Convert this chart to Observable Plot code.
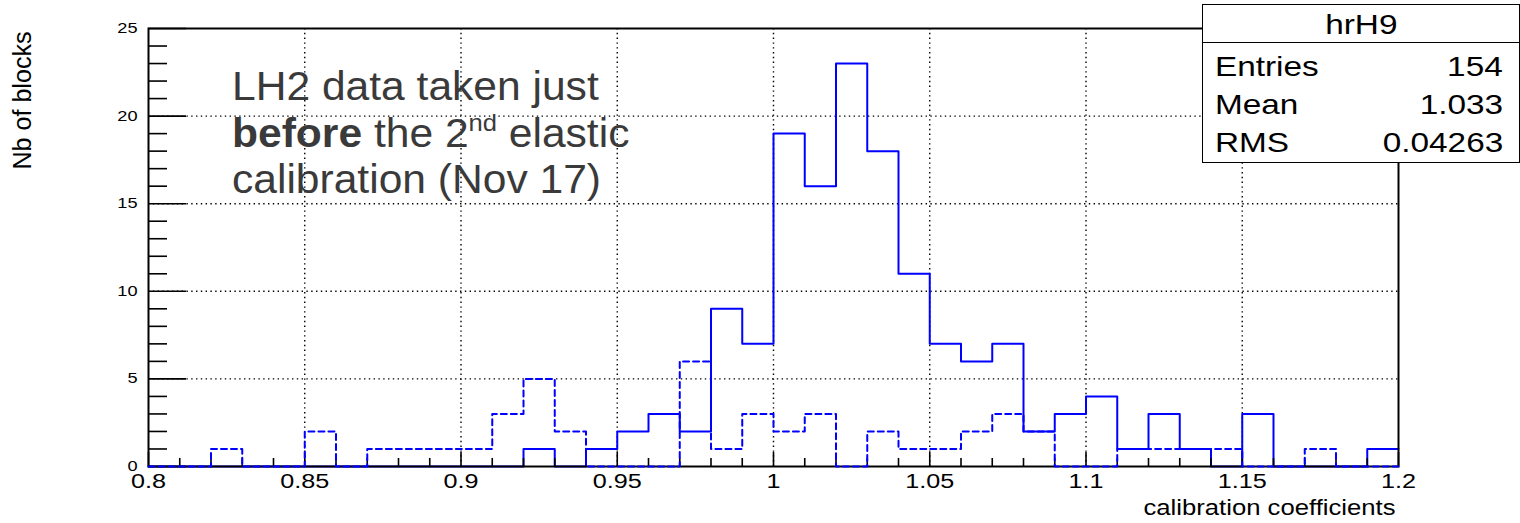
<!DOCTYPE html>
<html>
<head>
<meta charset="utf-8">
<script src="https://cdn.jsdelivr.net/npm/d3@7"></script>
<script src="https://cdn.jsdelivr.net/npm/@observablehq/plot@0.6"></script>
<style>
  html, body { margin: 0; padding: 0; background: #fff; }
  #wrap { position: relative; width: 1520px; height: 523px; overflow: hidden;
          font-family: "Liberation Sans", Arial, sans-serif; }
  #wrap svg { position: absolute; left: 0; top: 0; }
  #stats { position: absolute; left: 1202px; top: 4px; width: 318px; height: 159px;
           box-sizing: border-box; border: 1.5px solid #000; background: #fff; }
  #stats .hdr { position: absolute; left: 0; right: 0; top: 0; height: 38px;
                border-bottom: 1.5px solid #000; box-sizing: border-box; }
  .st { position: absolute; font-size: 28px; line-height: 28px; color: #000; white-space: nowrap; }
  .st span { display: inline-block; }
  #note { position: absolute; left: 232px; top: 63px; font-size: 40px; line-height: 46.5px;
          color: #3a3a3a; white-space: nowrap; transform: scaleX(1.064); transform-origin: left top; }
  #note sup { font-size: 24px; vertical-align: 16px; line-height: 0; }
</style>
</head>
<body>
<div id="wrap"></div>
<script>
// ---- data ----
const binEdges = [0.80, 0.81, 0.82, 0.83, 0.84, 0.85, 0.86, 0.87, 0.88, 0.89,
                  0.90, 0.91, 0.92, 0.93, 0.94, 0.95, 0.96, 0.97, 0.98, 0.99,
                  1.00, 1.01, 1.02, 1.03, 1.04, 1.05, 1.06, 1.07, 1.08, 1.09,
                  1.10, 1.11, 1.12, 1.13, 1.14, 1.15, 1.16, 1.17, 1.18, 1.19, 1.20];
// solid histogram (hrH9)
const solidCounts = [0, 0, 0, 0, 0, 0, 0, 0, 0, 0,
                     0, 0, 1, 0, 1, 2, 3, 2, 9, 7,
                     19, 16, 23, 18, 11, 7, 6, 7, 2, 3,
                     4, 1, 3, 1, 0, 3, 0, 0, 0, 1];
// dashed histogram
const dashedCounts = [0, 0, 1, 0, 0, 2, 0, 1, 1, 1,
                      1, 3, 5, 2, 0, 0, 0, 6, 1, 3,
                      2, 3, 0, 2, 1, 1, 2, 3, 2, 0,
                      0, 1, 1, 1, 1, 0, 0, 1, 0, 0];

const xMajorTicks = [0.8, 0.85, 0.9, 0.95, 1.0, 1.05, 1.1, 1.15, 1.2];
const xTickLabels = ["0.8", "0.85", "0.9", "0.95", "1", "1.05", "1.1", "1.15", "1.2"];
const xMinorTicks = [0.81, 0.82, 0.83, 0.84, 0.86, 0.87, 0.88, 0.89, 0.91, 0.92, 0.93, 0.94,
                     0.96, 0.97, 0.98, 0.99, 1.01, 1.02, 1.03, 1.04, 1.06, 1.07, 1.08, 1.09,
                     1.11, 1.12, 1.13, 1.14, 1.16, 1.17, 1.18, 1.19];
const xGridTicks = [0.85, 0.9, 0.95, 1.0, 1.05, 1.1, 1.15];
const yMajorTicks = [0, 5, 10, 15, 20, 25];
const yTickLabels = ["0", "5", "10", "15", "20", "25"];
const yMinorTicks = [1, 2, 3, 4, 6, 7, 8, 9, 11, 12, 13, 14, 16, 17, 18, 19, 21, 22, 23, 24];
const yGridTicks = [5, 10, 15, 20];

const xTitle = "calibration coefficients";
const yTitle = "Nb of blocks";
const histName = "hrH9";
const statLabels = ["Entries", "Mean", "RMS"];
const statValues = ["154", "1.033", "0.04263"];

// ---- tables built from arrays ----
function stepTable(counts) {
  const t = counts.map((c, i) => ({x: binEdges[i], y: c}));
  t.push({x: binEdges[binEdges.length - 1], y: counts[counts.length - 1]});
  return t;
}
const xLabelMap = new Map(xMajorTicks.map((d, i) => [d, xTickLabels[i]]));
const yLabelMap = new Map(yMajorTicks.map((d, i) => [d, yTickLabels[i]]));

const blue = "#0000ff";
const dotted = {stroke: "#000", strokeOpacity: 1, strokeWidth: 1.4, strokeDasharray: "1.4,3.4"};

const svg = Plot.plot({
  width: 1520, height: 523,
  marginLeft: 148, marginRight: 122, marginTop: 28, marginBottom: 57,
  x: {domain: [0.8, 1.2], label: null},
  y: {domain: [0, 25], label: null},
  style: {fontFamily: "'Liberation Sans', Arial, sans-serif", background: "#fff", overflow: "visible", color: "#000"},
  marks: [
    Plot.gridY(yGridTicks, dotted),
    Plot.gridX(xGridTicks, dotted),
    Plot.line(stepTable(solidCounts), {x: "x", y: "y", curve: "step-after", stroke: blue, strokeWidth: 2}),
    Plot.frame({stroke: "#000", strokeWidth: 2}),
    Plot.axisY(yMajorTicks, {anchor: "left", tickSize: -38, fill: "none", strokeWidth: 1.6, label: null}),
    Plot.axisY(yMinorTicks, {anchor: "left", tickSize: -19, fill: "none", strokeWidth: 1.6, label: null}),
    Plot.axisY(yMajorTicks, {anchor: "left", tickSize: 0, tickPadding: 11, fontSize: 14,
                             tickFormat: d => yLabelMap.get(d), label: null}),
    Plot.axisX(xMajorTicks, {anchor: "bottom", tickSize: -14, fill: "none", strokeWidth: 1.6, label: null}),
    Plot.axisX(xMinorTicks, {anchor: "bottom", tickSize: -8, fill: "none", strokeWidth: 1.6, label: null}),
    Plot.axisX(xMajorTicks, {anchor: "bottom", tickSize: 0, tickPadding: 7, fontSize: 21,
                             tickFormat: d => xLabelMap.get(d), label: null}),
    Plot.line(stepTable(dashedCounts), {x: "x", y: "y", curve: "step-after", stroke: blue, strokeWidth: 2, strokeDasharray: "6,4"}),
    Plot.text([xTitle], {frameAnchor: "bottom-right", text: d => d, textAnchor: "end", dy: 48, dx: -3,
                         fontSize: 21.5, fill: "#000"}),
    Plot.text([yTitle], {frameAnchor: "top-left", text: d => d, rotate: -90, textAnchor: "end", dx: -135, dy: 3,
                         fontSize: 25, fill: "#000"})
  ]
});

// horizontal stretch of the ROOT-style texts
function stretch(sel, s) {
  d3.select(svg).selectAll(sel).attr("transform", function () {
    return (this.getAttribute("transform") || "") + ` scale(${s},1)`;
  });
}
stretch('g[aria-label="x-axis tick label"] text', 1.2);
stretch('g[aria-label="y-axis tick label"] text', 1.3);
d3.select(svg).selectAll("text").filter(function () { return this.textContent === xTitle; })
  .attr("textLength", 252).attr("lengthAdjust", "spacingAndGlyphs");
d3.select(svg).selectAll("text").filter(function () { return this.textContent === yTitle; })
  .attr("textLength", 138).attr("lengthAdjust", "spacingAndGlyphs");

const wrap = document.getElementById("wrap");
wrap.appendChild(svg);

// stats box
const stats = document.createElement("div");
stats.id = "stats";
const hdr = document.createElement("div");
hdr.className = "hdr";
stats.appendChild(hdr);
wrap.appendChild(stats);

function addText(txt, opts) {
  const d = document.createElement("div");
  d.className = "st";
  Object.assign(d.style, opts.box);
  const s = document.createElement("span");
  s.textContent = txt;
  s.style.transform = "scaleX(1.19)";
  s.style.transformOrigin = opts.origin;
  d.appendChild(s);
  wrap.appendChild(d);
}
addText(histName, {box: {left: "1202px", width: "318px", textAlign: "center", top: (24.5 - 13.7) + "px"}, origin: "center"});
const rowCenters = [66.5, 104.5, 143];
statLabels.forEach((lab, i) => {
  addText(lab, {box: {left: "1215px", top: (rowCenters[i] - 13.7) + "px"}, origin: "left"});
  addText(statValues[i], {box: {right: "17px", top: (rowCenters[i] - 13.7) + "px", textAlign: "right"}, origin: "right"});
});

// annotation
const note = document.createElement("div");
note.id = "note";
note.innerHTML = "LH2 data taken just<br><b>before</b> the 2<sup>nd</sup> elastic<br>calibration (Nov 17)";
wrap.appendChild(note);
</script>
</body>
</html>
